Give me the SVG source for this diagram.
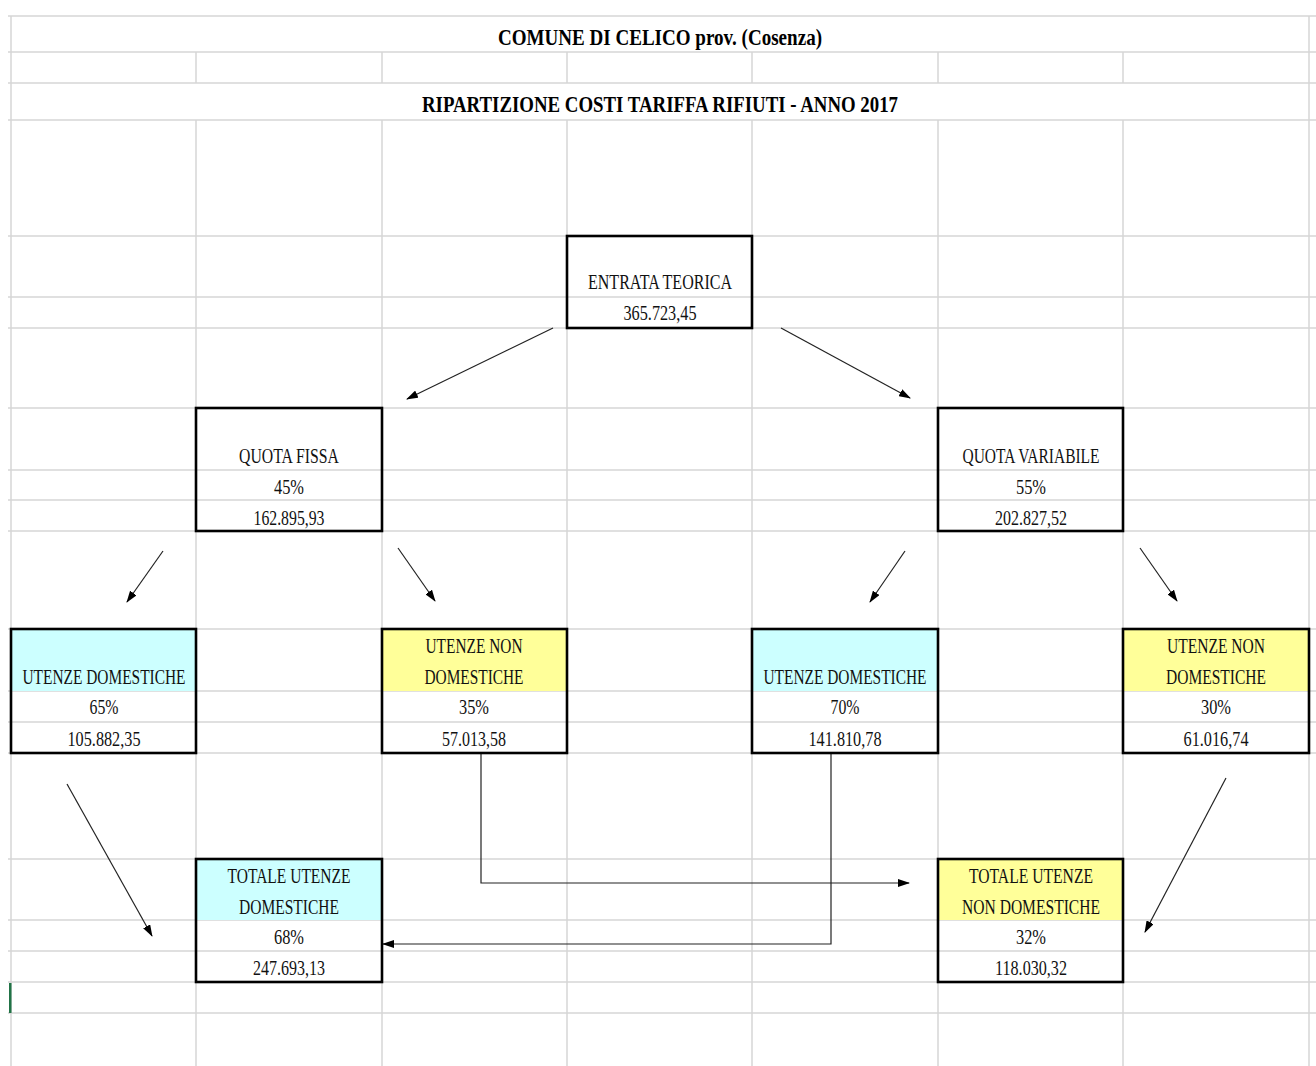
<svg xmlns="http://www.w3.org/2000/svg" width="1316" height="1066" viewBox="0 0 1316 1066">
<style>
.grid line{stroke:#d6d6d6;stroke-width:1.5}
.box{fill:none;stroke:#000;stroke-width:2.6}
.t{font-family:"Liberation Serif","Times New Roman",serif;font-size:22px;fill:#111;text-anchor:middle}
.h{font-family:"Liberation Serif","Times New Roman",serif;font-size:23px;font-weight:bold;fill:#000;text-anchor:middle}
.cy{fill:#ccffff}
.ye{fill:#ffff99}
.c{fill:none;stroke:#222;stroke-width:1.2}
</style>
<defs>
<marker id="ah" markerUnits="userSpaceOnUse" markerWidth="12" markerHeight="8" refX="11" refY="4" orient="auto">
<path d="M0,0 L12,4 L0,8 z" fill="#000"/>
</marker>
</defs>
<rect width="1316" height="1066" fill="#fff"/>
<g class="grid" id="grid">
<line x1="8" y1="16" x2="1316" y2="16"/>
<line x1="8" y1="52" x2="1316" y2="52"/>
<line x1="8" y1="83" x2="1316" y2="83"/>
<line x1="8" y1="120" x2="1316" y2="120"/>
<line x1="8" y1="236" x2="1316" y2="236"/>
<line x1="8" y1="297" x2="1316" y2="297"/>
<line x1="8" y1="328" x2="1316" y2="328"/>
<line x1="8" y1="408" x2="1316" y2="408"/>
<line x1="8" y1="470" x2="1316" y2="470"/>
<line x1="8" y1="500" x2="1316" y2="500"/>
<line x1="8" y1="531" x2="1316" y2="531"/>
<line x1="8" y1="629" x2="1316" y2="629"/>
<line x1="8" y1="691" x2="1316" y2="691"/>
<line x1="8" y1="722" x2="1316" y2="722"/>
<line x1="8" y1="753" x2="1316" y2="753"/>
<line x1="8" y1="859" x2="1316" y2="859"/>
<line x1="8" y1="920" x2="1316" y2="920"/>
<line x1="8" y1="951" x2="1316" y2="951"/>
<line x1="8" y1="982" x2="1316" y2="982"/>
<line x1="8" y1="1013" x2="1316" y2="1013"/>
<line x1="11" y1="16" x2="11" y2="1066"/>
<line x1="1309" y1="16" x2="1309" y2="1066"/>
<line x1="196" y1="52" x2="196" y2="83"/>
<line x1="382" y1="52" x2="382" y2="83"/>
<line x1="567" y1="52" x2="567" y2="83"/>
<line x1="752" y1="52" x2="752" y2="83"/>
<line x1="938" y1="52" x2="938" y2="83"/>
<line x1="1123" y1="52" x2="1123" y2="83"/>
<line x1="196" y1="120" x2="196" y2="1066"/>
<line x1="382" y1="120" x2="382" y2="1066"/>
<line x1="567" y1="120" x2="567" y2="1066"/>
<line x1="752" y1="120" x2="752" y2="1066"/>
<line x1="938" y1="120" x2="938" y2="1066"/>
<line x1="1123" y1="120" x2="1123" y2="1066"/>
</g>
<rect x="9" y="983" width="2.5" height="30" fill="#217346"/>
<g id="title">
<text class="h" x="660" y="45" textLength="324" lengthAdjust="spacingAndGlyphs">COMUNE DI CELICO prov. (Cosenza)</text>
<text class="h" x="660" y="112" textLength="476" lengthAdjust="spacingAndGlyphs">RIPARTIZIONE COSTI TARIFFA RIFIUTI - ANNO 2017</text>
</g>
<g id="connectors">
<line class="c" x1="553" y1="328" x2="407" y2="399" marker-end="url(#ah)"/>
<line class="c" x1="781" y1="328" x2="910" y2="398" marker-end="url(#ah)"/>
<line class="c" x1="163" y1="551" x2="127" y2="602" marker-end="url(#ah)"/>
<line class="c" x1="398" y1="548" x2="435" y2="601" marker-end="url(#ah)"/>
<line class="c" x1="905" y1="551" x2="870" y2="602" marker-end="url(#ah)"/>
<line class="c" x1="1140" y1="548" x2="1177" y2="601" marker-end="url(#ah)"/>
<line class="c" x1="67" y1="784" x2="152" y2="936" marker-end="url(#ah)"/>
<line class="c" x1="1226" y1="778" x2="1145" y2="932" marker-end="url(#ah)"/>
<polyline class="c" points="481,753 481,883 909,883" marker-end="url(#ah)"/>
<polyline class="c" points="831,753 831,944 383,944" marker-end="url(#ah)"/>
</g>
<g id="entrata">
<rect class="box" x="567" y="236" width="185" height="92"/>
<text class="t" x="660" y="289" textLength="144" lengthAdjust="spacingAndGlyphs">ENTRATA TEORICA</text>
<text class="t" x="660" y="320" textLength="73" lengthAdjust="spacingAndGlyphs">365.723,45</text>
</g>
<g id="quota-fissa">
<rect class="box" x="196" y="408" width="186" height="123"/>
<text class="t" x="289" y="463" textLength="100" lengthAdjust="spacingAndGlyphs">QUOTA FISSA</text>
<text class="t" x="289" y="494" textLength="30" lengthAdjust="spacingAndGlyphs">45%</text>
<text class="t" x="289" y="525" textLength="71" lengthAdjust="spacingAndGlyphs">162.895,93</text>
</g>
<g id="quota-variabile">
<rect class="box" x="938" y="408" width="185" height="123"/>
<text class="t" x="1031" y="463" textLength="137" lengthAdjust="spacingAndGlyphs">QUOTA VARIABILE</text>
<text class="t" x="1031" y="494" textLength="30" lengthAdjust="spacingAndGlyphs">55%</text>
<text class="t" x="1031" y="525" textLength="72" lengthAdjust="spacingAndGlyphs">202.827,52</text>
</g>
<g id="ud-fissa">
<rect class="cy" x="11" y="629" width="185" height="62"/>
<rect class="box" x="11" y="629" width="185" height="124"/>
<text class="t" x="104" y="684" textLength="163" lengthAdjust="spacingAndGlyphs">UTENZE DOMESTICHE</text>
<text class="t" x="104" y="714" textLength="29" lengthAdjust="spacingAndGlyphs">65%</text>
<text class="t" x="104" y="746" textLength="73" lengthAdjust="spacingAndGlyphs">105.882,35</text>
</g>
<g id="und-fissa">
<rect class="ye" x="382" y="629" width="185" height="62"/>
<rect class="box" x="382" y="629" width="185" height="124"/>
<text class="t" x="474" y="653" textLength="97" lengthAdjust="spacingAndGlyphs">UTENZE NON</text>
<text class="t" x="474" y="684" textLength="99" lengthAdjust="spacingAndGlyphs">DOMESTICHE</text>
<text class="t" x="474" y="714" textLength="30" lengthAdjust="spacingAndGlyphs">35%</text>
<text class="t" x="474" y="746" textLength="64" lengthAdjust="spacingAndGlyphs">57.013,58</text>
</g>
<g id="ud-variabile">
<rect class="cy" x="752" y="629" width="186" height="62"/>
<rect class="box" x="752" y="629" width="186" height="124"/>
<text class="t" x="845" y="684" textLength="163" lengthAdjust="spacingAndGlyphs">UTENZE DOMESTICHE</text>
<text class="t" x="845" y="714" textLength="29" lengthAdjust="spacingAndGlyphs">70%</text>
<text class="t" x="845" y="746" textLength="73" lengthAdjust="spacingAndGlyphs">141.810,78</text>
</g>
<g id="und-variabile">
<rect class="ye" x="1123" y="629" width="186" height="62"/>
<rect class="box" x="1123" y="629" width="186" height="124"/>
<text class="t" x="1216" y="653" textLength="98" lengthAdjust="spacingAndGlyphs">UTENZE NON</text>
<text class="t" x="1216" y="684" textLength="100" lengthAdjust="spacingAndGlyphs">DOMESTICHE</text>
<text class="t" x="1216" y="714" textLength="30" lengthAdjust="spacingAndGlyphs">30%</text>
<text class="t" x="1216" y="746" textLength="65" lengthAdjust="spacingAndGlyphs">61.016,74</text>
</g>
<g id="totale-ud">
<rect class="cy" x="196" y="859" width="186" height="61"/>
<rect class="box" x="196" y="859" width="186" height="123"/>
<text class="t" x="289" y="883" textLength="123" lengthAdjust="spacingAndGlyphs">TOTALE UTENZE</text>
<text class="t" x="289" y="914" textLength="100" lengthAdjust="spacingAndGlyphs">DOMESTICHE</text>
<text class="t" x="289" y="944" textLength="30" lengthAdjust="spacingAndGlyphs">68%</text>
<text class="t" x="289" y="975" textLength="72" lengthAdjust="spacingAndGlyphs">247.693,13</text>
</g>
<g id="totale-und">
<rect class="ye" x="938" y="859" width="185" height="61"/>
<rect class="box" x="938" y="859" width="185" height="123"/>
<text class="t" x="1031" y="883" textLength="124" lengthAdjust="spacingAndGlyphs">TOTALE UTENZE</text>
<text class="t" x="1031" y="914" textLength="138" lengthAdjust="spacingAndGlyphs">NON DOMESTICHE</text>
<text class="t" x="1031" y="944" textLength="30" lengthAdjust="spacingAndGlyphs">32%</text>
<text class="t" x="1031" y="975" textLength="72" lengthAdjust="spacingAndGlyphs">118.030,32</text>
</g>
</svg>
